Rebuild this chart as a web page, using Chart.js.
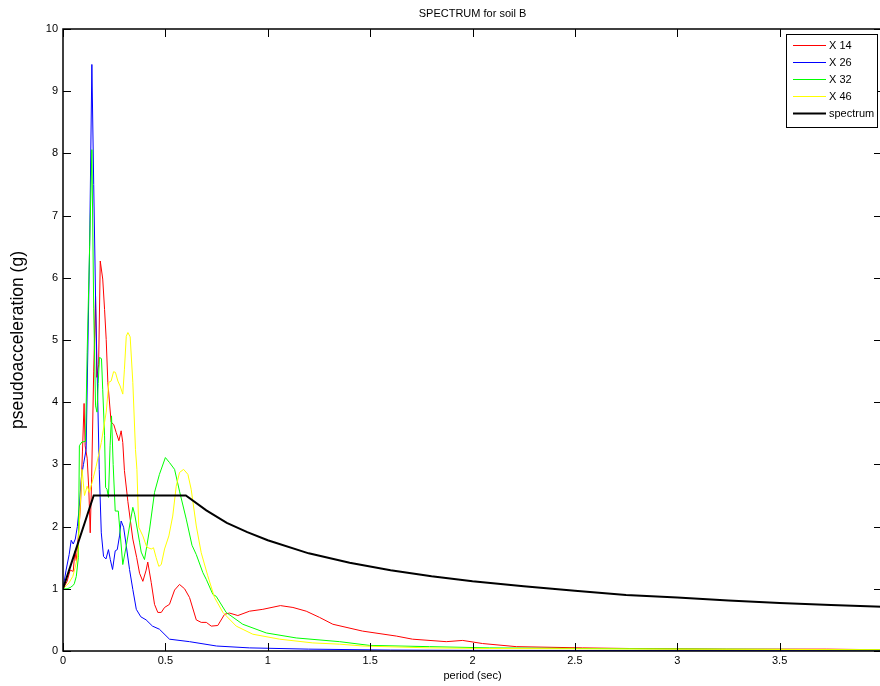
<!DOCTYPE html>
<html>
<head>
<meta charset="utf-8">
<script src="https://cdn.jsdelivr.net/npm/chart.js@4/dist/chart.umd.min.js"></script>
<style>
  html, body { margin: 0; padding: 0; background: #fff; overflow: hidden; }
  #spectrumChart { position: absolute; left: 0; top: 0; }
</style>
</head>
<body>
<canvas id="spectrumChart" width="884" height="686"></canvas>
<script>
const FONT = "'Liberation Sans', Arial, Helvetica, sans-serif";

// X 14
const periodX14 = [0, 0.02, 0.035, 0.05, 0.058, 0.065, 0.075, 0.085, 0.095, 0.103, 0.108, 0.118, 0.126, 0.133, 0.14,
  0.15, 0.159, 0.165, 0.174, 0.182, 0.194, 0.203, 0.211, 0.219, 0.235, 0.248, 0.26, 0.273, 0.284, 0.292,
  0.30, 0.317, 0.341, 0.36, 0.374, 0.39, 0.406, 0.414, 0.431, 0.447, 0.463, 0.48, 0.496, 0.52, 0.545,
  0.569, 0.594, 0.618, 0.651, 0.675, 0.70, 0.724, 0.756, 0.789, 0.813, 0.854, 0.911, 0.976, 1.062, 1.123,
  1.188, 1.253, 1.318, 1.463, 1.628, 1.707, 1.872, 1.952, 2.049, 2.214, 2.538, 2.767, 3.24, 3.73, 4.0];
const saX14 = [1.0, 1.12, 1.3, 1.28, 1.6, 1.45, 1.85, 2.3, 3.2, 3.98, 3.3, 3.1, 2.6, 1.9, 2.8,
  4.5, 5.7, 4.4, 4.6, 6.27, 5.98, 5.49, 5.01, 4.32, 3.68, 3.64, 3.51, 3.38, 3.54, 3.35,
  2.9, 2.4, 1.8, 1.5, 1.25, 1.12, 1.3, 1.43, 1.1, 0.75, 0.62, 0.62, 0.7, 0.75, 0.98,
  1.07, 1.0, 0.86, 0.5, 0.46, 0.46, 0.4, 0.41, 0.59, 0.61, 0.57, 0.64, 0.67, 0.73, 0.7,
  0.64, 0.54, 0.43, 0.32, 0.24, 0.19, 0.15, 0.17, 0.12, 0.07, 0.05, 0.04, 0.03, 0.03, 0.02];

// X 26
const periodX26 = [0, 0.015, 0.03, 0.04, 0.05, 0.06, 0.07, 0.08, 0.09, 0.1, 0.113, 0.13, 0.141, 0.15, 0.16,
  0.17, 0.177, 0.187, 0.198, 0.21, 0.222, 0.231, 0.242, 0.255, 0.265, 0.276, 0.284, 0.296, 0.309, 0.325,
  0.341, 0.358, 0.38, 0.406, 0.437, 0.471, 0.52, 0.618, 0.75, 0.91, 1.2, 1.6, 2.0, 4.0];
const saX26 = [1.0, 1.3, 1.55, 1.78, 1.72, 1.8, 2.0, 2.33, 2.8, 3.0, 3.24, 6.5, 9.43, 7.5, 5.5,
  4.0, 2.92, 1.9, 1.52, 1.48, 1.63, 1.47, 1.31, 1.61, 1.63, 1.85, 2.09, 1.99, 1.69, 1.31,
  0.99, 0.67, 0.55, 0.5, 0.4, 0.35, 0.19, 0.15, 0.08, 0.05, 0.03, 0.015, 0.01, 0.005];

// X 32
const periodX32 = [0, 0.02, 0.035, 0.048, 0.055, 0.065, 0.075, 0.08, 0.092, 0.11, 0.118, 0.13, 0.141, 0.15, 0.159,
  0.166, 0.172, 0.178, 0.188, 0.194, 0.203, 0.208, 0.215, 0.222, 0.23, 0.237, 0.245, 0.255, 0.27, 0.292,
  0.309, 0.325, 0.341, 0.35, 0.374, 0.382, 0.398, 0.41, 0.423, 0.447, 0.471, 0.5, 0.52, 0.545, 0.569,
  0.602, 0.63, 0.651, 0.683, 0.7, 0.732, 0.748, 0.797, 0.878, 0.993, 1.139, 1.351, 1.497, 1.79, 2.084,
  2.54, 3.22, 4.0];
const saX32 = [1.0, 1.0, 1.02, 1.05, 1.08, 1.2, 1.5, 3.3, 3.36, 3.37, 4.8, 6.5, 8.06, 5.5, 3.94,
  3.84, 4.3, 4.72, 4.7, 4.2, 3.46, 2.63, 2.6, 2.47, 3.3, 3.78, 3.0, 2.25, 2.25, 1.39,
  1.69, 2.01, 2.31, 2.2, 1.75, 1.59, 1.47, 1.7, 1.96, 2.55, 2.84, 3.11, 3.03, 2.92, 2.57,
  2.12, 1.7, 1.55, 1.26, 1.15, 0.91, 0.88, 0.62, 0.43, 0.29, 0.21, 0.15, 0.09, 0.07, 0.05,
  0.04, 0.03, 0.02];

// X 46
const periodX46 = [0, 0.016, 0.03, 0.048, 0.06, 0.072, 0.082, 0.093, 0.105, 0.118, 0.129, 0.146, 0.162, 0.187, 0.211,
  0.224, 0.235, 0.247, 0.256, 0.268, 0.279, 0.292, 0.3, 0.309, 0.317, 0.328, 0.341, 0.354, 0.361, 0.37,
  0.39, 0.409, 0.431, 0.442, 0.455, 0.468, 0.48, 0.496, 0.517, 0.536, 0.553, 0.569, 0.589, 0.61, 0.626,
  0.651, 0.675, 0.707, 0.74, 0.781, 0.846, 0.927, 1.058, 1.22, 1.351, 1.465, 1.79, 2.084, 3.0, 4.0];
const saX46 = [1.0, 1.05, 1.1, 1.2, 1.35, 1.53, 2.2, 2.92, 2.5, 2.65, 2.55, 2.76, 2.97, 3.35, 3.84,
  4.32, 4.34, 4.49, 4.48, 4.34, 4.26, 4.13, 4.53, 5.06, 5.12, 5.05, 4.32, 3.24, 2.92, 1.99,
  1.85, 1.67, 1.64, 1.66, 1.5, 1.36, 1.39, 1.64, 1.85, 2.17, 2.65, 2.87, 2.92, 2.84, 2.6,
  2.01, 1.58, 1.21, 0.86, 0.62, 0.4, 0.27, 0.19, 0.13, 0.11, 0.08, 0.05, 0.04, 0.03, 0.02];

// design spectrum
const periodSpec = [0, 0.15, 0.6, 0.7, 0.8, 0.9, 1.0, 1.2, 1.4, 1.6, 1.8, 2.0, 2.25, 2.5, 2.75, 3.0, 3.25, 3.5, 3.75, 4.0];
const saSpec = [1.0, 2.5, 2.5, 2.26, 2.06, 1.91, 1.78, 1.57, 1.42, 1.30, 1.20, 1.12, 1.04, 0.97, 0.90, 0.86, 0.81, 0.77, 0.74, 0.71];

const seriesLabels = ["X 14", "X 26", "X 32", "X 46", "spectrum"];
const xTicks = [0, 0.5, 1, 1.5, 2, 2.5, 3, 3.5, 4];
const xTickLabels = ["0", "0.5", "1", "1.5", "2", "2.5", "3", "3.5", ""];
const yTicks = [0, 1, 2, 3, 4, 5, 6, 7, 8, 9, 10];
const yTickLabels = ["0", "1", "2", "3", "4", "5", "6", "7", "8", "9", "10"];

const toPoints = (xs, ys) => xs.map((v, i) => ({ x: v, y: ys[i] }));

function lineSet(label, xs, ys, color, width, order) {
  return {
    label: label,
    data: toPoints(xs, ys),
    borderColor: color,
    backgroundColor: color,
    borderWidth: width,
    pointRadius: 0,
    tension: 0,
    fill: false,
    order: order,
  };
}

// box, inward ticks, tick labels, legend and titles, drawn the matlab way
const axesFrame = {
  id: "axesFrame",
  afterDatasetsDraw(chart) {
    const { ctx, chartArea: a, scales } = chart;
    const x = scales.x;
    const y = scales.y;
    ctx.save();
    ctx.strokeStyle = "#000";
    ctx.lineWidth = 1;
    ctx.beginPath();
    xTicks.forEach((t) => {
      const px = Math.round(x.getPixelForValue(t)) + 0.5;
      ctx.moveTo(px, a.bottom); ctx.lineTo(px, a.bottom - 8);
      ctx.moveTo(px, a.top); ctx.lineTo(px, a.top + 8);
    });
    yTicks.forEach((t) => {
      const py = Math.round(y.getPixelForValue(t)) + 0.5;
      ctx.moveTo(a.left, py); ctx.lineTo(a.left + 8, py);
      ctx.moveTo(a.right, py); ctx.lineTo(a.right - 8, py);
    });
    ctx.stroke();
    ctx.lineWidth = 1.5;
    ctx.strokeRect(a.left, a.top, a.right - a.left, a.bottom - a.top);

    // tick labels
    ctx.fillStyle = "#000";
    ctx.font = "11px " + FONT;
    ctx.textBaseline = "middle";
    ctx.textAlign = "center";
    xTicks.forEach((t, i) => {
      ctx.fillText(xTickLabels[i], x.getPixelForValue(t), a.bottom + 10);
    });
    ctx.textAlign = "right";
    yTicks.forEach((t, i) => {
      ctx.fillText(yTickLabels[i], a.left - 5, y.getPixelForValue(t));
    });

    // legend box
    const lx = 786, ly = 34, lw = 91, lh = 93;
    ctx.fillStyle = "#fff";
    ctx.fillRect(lx, ly, lw, lh);
    ctx.strokeStyle = "#000";
    ctx.lineWidth = 1;
    ctx.strokeRect(lx + 0.5, ly + 0.5, lw, lh);
    ctx.textAlign = "left";
    chart.data.datasets.forEach((ds, i) => {
      const ey = ly + 11 + i * 17;
      ctx.strokeStyle = ds.borderColor;
      ctx.lineWidth = ds.borderWidth;
      ctx.beginPath();
      ctx.moveTo(lx + 7, ey + 0.5);
      ctx.lineTo(lx + 40, ey + 0.5);
      ctx.stroke();
      ctx.fillStyle = "#000";
      ctx.fillText(ds.label, lx + 43, ey + 1);
    });
    ctx.restore();
  },
  afterDraw(chart) {
    const { ctx, chartArea: a } = chart;
    const cx = (a.left + a.right) / 2;
    ctx.save();
    ctx.fillStyle = "#000";
    ctx.textAlign = "center";
    ctx.textBaseline = "middle";
    ctx.font = "11px " + FONT;
    ctx.fillText("SPECTRUM for soil B", cx, 14);
    ctx.fillText("period (sec)", cx, 676);
    ctx.translate(18, (a.top + a.bottom) / 2);
    ctx.rotate(-Math.PI / 2);
    ctx.font = "17.5px " + FONT;
    ctx.fillText("pseudoacceleration (g)", 0, 0);
    ctx.restore();
  },
};

const myChart = new Chart(document.getElementById("spectrumChart"), {
  type: "line",
  data: {
    datasets: [
      lineSet(seriesLabels[0], periodX14, saX14, "#ff0000", 1, 5),
      lineSet(seriesLabels[1], periodX26, saX26, "#0000ff", 1, 4),
      lineSet(seriesLabels[2], periodX32, saX32, "#00ff00", 1, 3),
      lineSet(seriesLabels[3], periodX46, saX46, "#ffff00", 1, 2),
      lineSet(seriesLabels[4], periodSpec, saSpec, "#000000", 2, 1),
    ],
  },
  options: {
    responsive: false,
    animation: false,
    events: [],
    layout: { padding: { top: 29, right: 2, left: 0, bottom: 0 } },
    plugins: {
      legend: { display: false },
      title: { display: false },
      tooltip: { enabled: false },
    },
    scales: {
      x: {
        type: "linear",
        min: 0,
        max: 4,
        grid: { display: false },
        border: { display: false },
        ticks: { display: false },
        afterFit: (s) => { s.height = 35; },
      },
      y: {
        min: 0,
        max: 10,
        grid: { display: false },
        border: { display: false },
        ticks: { display: false },
        afterFit: (s) => { s.width = 63; },
      },
    },
  },
  plugins: [axesFrame],
});
</script>
</body>
</html>
